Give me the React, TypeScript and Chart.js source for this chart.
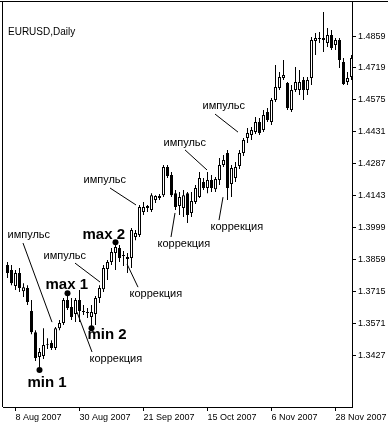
import React, { useEffect, useRef } from 'react';
import { Chart, registerables } from 'chart.js';
Chart.register(...registerables);

const symbolTitle = 'EURUSD,Daily';

const openP = [1.3832, 1.3810, 1.3738, 1.3796, 1.3715, 1.3729, 1.3626, 1.3531, 1.3419, 1.3424,
  1.3473, 1.3482, 1.3460, 1.3549, 1.3572, 1.3675, 1.3644, 1.3612, 1.3675, 1.3626,
  1.3621, 1.3599, 1.3612, 1.3684, 1.3724, 1.3814, 1.3846, 1.3886, 1.3909, 1.3873,
  1.3868, 1.3864, 1.3958, 1.3967, 1.4070, 1.4088, 1.4079, 1.4124, 1.4133, 1.4146,
  1.4272, 1.4236, 1.4155, 1.4097, 1.4088, 1.4155, 1.4066, 1.4115, 1.4138, 1.4205,
  1.4178, 1.4214, 1.4173, 1.4214, 1.4281, 1.4335, 1.4196, 1.4223, 1.4277, 1.4335,
  1.4402, 1.4416, 1.4429, 1.4474, 1.4438, 1.4519, 1.4474, 1.4573, 1.4627, 1.4672,
  1.4649, 1.4528, 1.4618, 1.4618, 1.4663, 1.4618, 1.4672, 1.4838, 1.4847, 1.4851,
  1.4829, 1.4865, 1.4820, 1.4842, 1.4744, 1.4654, 1.4676];
const highP = [1.3846, 1.3832, 1.3810, 1.3819, 1.3751, 1.3742, 1.3675, 1.3540, 1.3460, 1.3549,
  1.3504, 1.3495, 1.3554, 1.3585, 1.3684, 1.3693, 1.3684, 1.3684, 1.3720, 1.3653,
  1.3639, 1.3653, 1.3693, 1.3742, 1.3832, 1.3855, 1.3909, 1.3922, 1.3922, 1.3895,
  1.3886, 1.3998, 1.3989, 1.4102, 1.4115, 1.4102, 1.4155, 1.4146, 1.4151, 1.4281,
  1.4281, 1.4250, 1.4169, 1.4160, 1.4169, 1.4160, 1.4160, 1.4191, 1.4250, 1.4223,
  1.4250, 1.4236, 1.4227, 1.4313, 1.4326, 1.4349, 1.4281, 1.4295, 1.4349, 1.4402,
  1.4447, 1.4452, 1.4497, 1.4492, 1.4528, 1.4537, 1.4582, 1.4730, 1.4699, 1.4753,
  1.4654, 1.4640, 1.4721, 1.4708, 1.4676, 1.4676, 1.4856, 1.4874, 1.4878, 1.4968,
  1.4896, 1.4887, 1.4851, 1.4851, 1.4762, 1.4699, 1.4775];
const lowP = [1.3774, 1.3742, 1.3720, 1.3711, 1.3689, 1.3653, 1.3522, 1.3401, 1.3370, 1.3410,
  1.3455, 1.3451, 1.3451, 1.3540, 1.3563, 1.3630, 1.3585, 1.3576, 1.3576, 1.3608,
  1.3594, 1.3558, 1.3563, 1.3662, 1.3711, 1.3765, 1.3832, 1.3810, 1.3846, 1.3828,
  1.3796, 1.3819, 1.3944, 1.3958, 1.4057, 1.4070, 1.4070, 1.4111, 1.4124, 1.4138,
  1.4223, 1.4138, 1.4079, 1.4057, 1.4048, 1.4021, 1.4048, 1.4106, 1.4133, 1.4169,
  1.4155, 1.4160, 1.4160, 1.4191, 1.4272, 1.4124, 1.4138, 1.4205, 1.4263, 1.4322,
  1.4380, 1.4393, 1.4420, 1.4416, 1.4429, 1.4474, 1.4461, 1.4564, 1.4618, 1.4663,
  1.4528, 1.4519, 1.4609, 1.4595, 1.4573, 1.4595, 1.4640, 1.4775, 1.4829, 1.4789,
  1.4811, 1.4798, 1.4798, 1.4717, 1.4640, 1.4640, 1.4663];
const closeP = [1.3796, 1.3751, 1.3796, 1.3729, 1.3733, 1.3666, 1.3531, 1.3415, 1.3442, 1.3473,
  1.3477, 1.3460, 1.3549, 1.3572, 1.3675, 1.3639, 1.3599, 1.3675, 1.3626, 1.3621,
  1.3617, 1.3621, 1.3684, 1.3729, 1.3819, 1.3846, 1.3891, 1.3913, 1.3864, 1.3877,
  1.3859, 1.3989, 1.3976, 1.4093, 1.4093, 1.4097, 1.4146, 1.4142, 1.4142, 1.4272,
  1.4232, 1.4146, 1.4093, 1.4138, 1.4146, 1.4057, 1.4120, 1.4178, 1.4223, 1.4178,
  1.4214, 1.4178, 1.4218, 1.4281, 1.4304, 1.4178, 1.4268, 1.4272, 1.4335, 1.4393,
  1.4425, 1.4438, 1.4474, 1.4425, 1.4506, 1.4483, 1.4573, 1.4631, 1.4676, 1.4685,
  1.4537, 1.4618, 1.4654, 1.4654, 1.4618, 1.4663, 1.4842, 1.4851, 1.4851, 1.4842,
  1.4865, 1.4806, 1.4842, 1.4753, 1.4645, 1.4672, 1.4762];

const yTickValues = [1.3427, 1.3571, 1.3715, 1.3859, 1.3999, 1.4143, 1.4287, 1.4431, 1.4575, 1.4719, 1.4859];
const xTickIndex = [2, 18, 34, 50, 66, 82];
const xTickLabels = ['8 Aug 2007', '30 Aug 2007', '21 Sep 2007', '15 Oct 2007', '6 Nov 2007', '28 Nov 2007'];

// annotations: [index, price]
const impulseText = 'импульс';
const correctionText = 'коррекция';
const impulseLabelPos = [[0, 1.3967], [9, 1.3873], [19, 1.4214], [39, 1.4380], [48.75, 1.4546]];
const correctionLabelPos = [[20.5, 1.3410], [30.5, 1.3702], [37.5, 1.3926], [50.75, 1.4003]];
const leaderLines = [
  [3.875, 1.3931, 11.125, 1.3576],
  [16.875, 1.3841, 23.125, 1.3756],
  [25.625, 1.4178, 32.125, 1.4102],
  [44.375, 1.4349, 49.875, 1.4259],
  [51.875, 1.4510, 57.625, 1.4429],
  [17.375, 1.3621, 21.125, 1.3442],
  [29.875, 1.3837, 32.625, 1.3733],
  [41.875, 1.4066, 40.875, 1.3958],
  [53.875, 1.4137, 52.875, 1.4034],
];
const extremeNames = ['min 1', 'max 1', 'min 2', 'max 2'];
const extremeDots = [[8, 1.3361], [15, 1.3706], [21, 1.3549], [27, 1.3935]];
const extremeLabelPos = [[5, 1.3302], [9.5, 1.3742], [20, 1.3518], [18.75, 1.3967]];

const W = 388;
const H = 423;

const annotPlugin = {
  id: 'annot',
  afterDatasetsDraw(chart: any) {
    const { ctx } = chart;
    const xs = chart.scales.x;
    const ys = chart.scales.y;
    const px = (i: number) => xs.getPixelForValue(i);
    const py = (v: number) => ys.getPixelForValue(v);
    ctx.save();
    ctx.strokeStyle = '#000';
    ctx.lineWidth = 1;
    for (const l of leaderLines) {
      ctx.beginPath();
      ctx.moveTo(px(l[0]), py(l[1]));
      ctx.lineTo(px(l[2]), py(l[3]));
      ctx.stroke();
    }
    ctx.fillStyle = '#000';
    for (const d of extremeDots) {
      ctx.beginPath();
      ctx.arc(px(d[0]), py(d[1]), 3, 0, Math.PI * 2);
      ctx.fill();
    }
    ctx.textAlign = 'left';
    ctx.textBaseline = 'middle';
    ctx.font = '11px "Liberation Sans", Arial, sans-serif';
    for (const p of impulseLabelPos) ctx.fillText(impulseText, px(p[0]), py(p[1]));
    for (const p of correctionLabelPos) ctx.fillText(correctionText, px(p[0]), py(p[1]));
    ctx.font = 'bold 15px "Liberation Sans", Arial, sans-serif';
    extremeLabelPos.forEach((p, k) => ctx.fillText(extremeNames[k], px(p[0]), py(p[1])));
    ctx.restore();
  },
  afterDraw(chart: any) {
    const { ctx, chartArea } = chart;
    ctx.save();
    ctx.fillStyle = '#000';
    ctx.fillRect(0, 1, W, 1);
    ctx.fillRect(2, 1, 1, chartArea.bottom - 1);
    ctx.textAlign = 'left';
    ctx.textBaseline = 'middle';
    ctx.font = '10px "Liberation Sans", Arial, sans-serif';
    ctx.fillText(symbolTitle, chartArea.left + 5, chartArea.top + 30);
    ctx.restore();
  },
};

export default function App() {
  const ref = useRef<HTMLCanvasElement | null>(null);
  useEffect(() => {
    document.body.style.margin = '0';
    const canvas = ref.current;
    if (!canvas) return;
    const idx = openP.map((_, i) => i);
    const wicks = idx.map((i) => ({ x: i, y: [lowP[i], highP[i]] }));
    const bodies = idx.map((i) => ({ x: i, y: [openP[i], closeP[i]] }));
    const chart = new Chart(canvas, {
      type: 'bar',
      data: {
        datasets: [
          {
            label: 'body',
            data: bodies as any,
            order: 0,
            grouped: false,
            barThickness: 3,
            borderWidth: 1,
            borderSkipped: false,
            inflateAmount: 0,
            borderColor: '#000',
            backgroundColor: (c: any) => {
              const i = c.dataIndex;
              return closeP[i] >= openP[i] ? '#fff' : '#000';
            },
          } as any,
          {
            label: 'wick',
            data: wicks as any,
            order: 1,
            grouped: false,
            barThickness: 1,
            borderWidth: 0,
            inflateAmount: 0,
            backgroundColor: '#000',
          } as any,
        ],
      },
      options: {
        animation: false,
        responsive: false,
        indexAxis: 'x',
        layout: { padding: { left: 3, top: 2, right: 0, bottom: 0 } },
        plugins: { legend: { display: false }, tooltip: { enabled: false }, title: { display: false } },
        scales: {
          x: {
            type: 'linear',
            min: -1.125,
            max: 86.125,
            offset: false,
            grid: { display: true, drawOnChartArea: false, drawTicks: true, tickLength: 4, color: '#000', offset: false },
            border: { display: true, color: '#000' },
            ticks: {
              autoSkip: false,
              maxRotation: 0,
              minRotation: 0,
              align: 'start',
              padding: 1,
              color: '#000',
              font: { family: '"Liberation Sans", Arial, sans-serif', size: 9 },
              callback: (v: any) => {
                const k = xTickIndex.indexOf(Number(v));
                return k >= 0 ? xTickLabels[k] : '';
              },
            },
            afterBuildTicks: (s: any) => {
              s.ticks = xTickIndex.map((v) => ({ value: v }));
            },
            afterFit: (s: any) => {
              s.height = 16;
              s.paddingLeft = 0;
              s.paddingRight = 0;
            },
          } as any,
          y: {
            type: 'linear',
            position: 'right',
            min: 1.3195,
            max: 1.5013,
            grid: { display: true, drawOnChartArea: false, drawTicks: true, tickLength: 4, color: '#000' },
            border: { display: true, color: '#000' },
            ticks: {
              padding: 2,
              color: '#000',
              font: { family: '"Liberation Sans", Arial, sans-serif', size: 9 },
              callback: (v: any) => Number(v).toFixed(4),
            },
            afterBuildTicks: (s: any) => {
              s.ticks = yTickValues.map((v) => ({ value: v }));
            },
            afterFit: (s: any) => {
              s.width = 36;
              s.paddingTop = 0;
              s.paddingBottom = 0;
            },
          } as any,
        },
      },
      plugins: [annotPlugin],
    });
    return () => chart.destroy();
  }, []);
  return (
    <div style={{ width: W, height: H }}>
      <canvas ref={ref} width={W} height={H} style={{ display: 'block' }} />
    </div>
  );
}
